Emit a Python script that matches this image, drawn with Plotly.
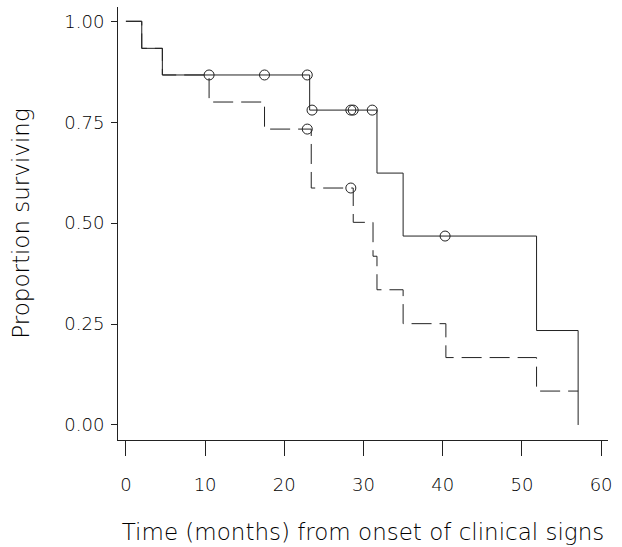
import plotly.graph_objects as go

# Kaplan-Meier step data
solid_time = [0, 2.0, 4.6, 23.2, 31.7, 35.0, 51.85, 57.1]
solid_surv = [1.0, 0.933, 0.867, 0.780, 0.624, 0.468, 0.234, 0.0]
solid_cens_time = [10.5, 17.5, 22.9, 23.5, 28.4, 28.7, 31.1, 40.3]
solid_cens_surv = [0.867, 0.867, 0.867, 0.780, 0.780, 0.780, 0.780, 0.468]

dash_time = [0, 2.0, 4.6, 10.5, 17.5, 23.4, 28.7, 31.2, 31.7, 35.0, 40.4, 51.85, 57.1]
dash_surv = [1.0, 0.933, 0.867, 0.800, 0.733, 0.587, 0.502, 0.418, 0.335, 0.251, 0.167, 0.084, 0.084]
dash_cens_time = [22.9, 28.4]
dash_cens_surv = [0.733, 0.587]

x_ticks = [0, 10, 20, 30, 40, 50, 60]
y_ticks = [0, 0.25, 0.5, 0.75, 1.0]
y_tick_labels = ["0.00", "0.25", "0.50", "0.75", "1.00"]

line_col = "#222222"
font_fam = "DejaVu Sans"

fig = go.Figure()
fig.add_trace(go.Scatter(x=dash_time, y=dash_surv, mode="lines", line_shape="hv",
                         line=dict(color=line_col, width=1, dash="20px,8px"), hoverinfo="skip"))
fig.add_trace(go.Scatter(x=solid_time, y=solid_surv, mode="lines", line_shape="hv",
                         line=dict(color=line_col, width=1), hoverinfo="skip"))
fig.add_trace(go.Scatter(x=solid_cens_time, y=solid_cens_surv, mode="markers",
                         marker=dict(symbol="circle-open", size=10, color=line_col, line=dict(width=1))))
fig.add_trace(go.Scatter(x=dash_cens_time, y=dash_cens_surv, mode="markers",
                         marker=dict(symbol="circle-open", size=10, color=line_col, line=dict(width=1))))

fig.update_layout(
    width=622, height=547,
    margin=dict(l=118, r=14, t=7, b=107),
    plot_bgcolor="white", paper_bgcolor="white",
    showlegend=False,
    font=dict(family=font_fam, size=18, color="#000000", weight=300),
    xaxis=dict(range=[-1.0, 60.87], tickvals=x_ticks, ticks="outside", ticklen=15,
               tickcolor=line_col, showline=True, linecolor=line_col, linewidth=1,
               showgrid=False, zeroline=False, ticklabelstandoff=13,
               title=dict(text="Time (months) from onset of clinical signs",
                          font=dict(size=23), standoff=30)),
    yaxis=dict(range=[-0.0372, 1.0354], tickvals=y_ticks, ticktext=y_tick_labels,
               ticks="outside", ticklen=6, tickcolor=line_col, showline=True,
               linecolor=line_col, linewidth=1, showgrid=False, zeroline=False,
               ticklabelstandoff=3,
               title=dict(text="Proportion surviving", font=dict(size=23), standoff=28)),
)

fig.write_html("out.html", config={"displayModeBar": False},
               post_script="document.body.style.margin='0';")
